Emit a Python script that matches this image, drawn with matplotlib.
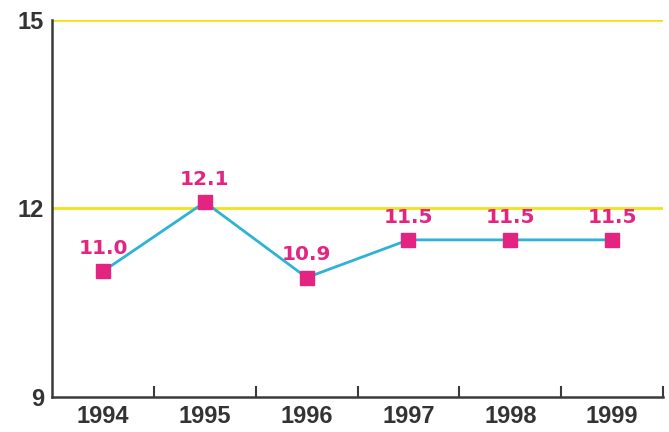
import matplotlib.pyplot as plt
from matplotlib.ticker import FixedLocator

# data
years = ['1994', '1995', '1996', '1997', '1998', '1999']
values = [11.0, 12.1, 10.9, 11.5, 11.5, 11.5]
y_ticks = [9, 12, 15]

fig = plt.figure(figsize=(6.69, 4.32), dpi=100)
ax = fig.add_axes([0.078, 0.081, 0.913, 0.873])

x = range(len(years))
for yv in y_ticks[1:]:
    ax.axhline(yv, color='#f0e31a', lw=2, zorder=1)

ax.plot(x, values, color='#2cb3d6', lw=2, zorder=2)
ax.plot(x, values, ls='none', marker='s', ms=9.5, color='#e32581', zorder=3)

for xi, v in zip(x, values):
    ax.annotate(f'{v:.1f}', (xi, v), xytext=(0, 12.5), textcoords='offset points',
                ha='center', va='baseline', color='#e32581', fontsize=14.5,
                fontweight='bold', family='DejaVu Sans')

ax.set_xlim(-0.5, len(years) - 0.5)
ax.set_ylim(9, 15)
ax.set_yticks(y_ticks)
ax.set_xticks(list(x))
ax.set_xticklabels(years)
ax.xaxis.set_minor_locator(FixedLocator([i + 0.5 for i in range(len(years))]))
ax.tick_params(axis='x', which='major', length=0, pad=6)
ax.tick_params(axis='x', which='minor', direction='in', length=8, width=1.5, color='#3a3a3a')
ax.tick_params(axis='y', length=0, pad=6)
for lab in ax.get_xticklabels() + ax.get_yticklabels():
    lab.set_fontweight('bold')
    lab.set_fontsize(17)
    lab.set_color('#333333')
    lab.set_family('Liberation Sans')

for s in ['top', 'right']:
    ax.spines[s].set_visible(False)
for s in ['left', 'bottom']:
    ax.spines[s].set_color('#3a3a3a')
    ax.spines[s].set_linewidth(1.8)

fig.savefig('out.png', dpi=100)
